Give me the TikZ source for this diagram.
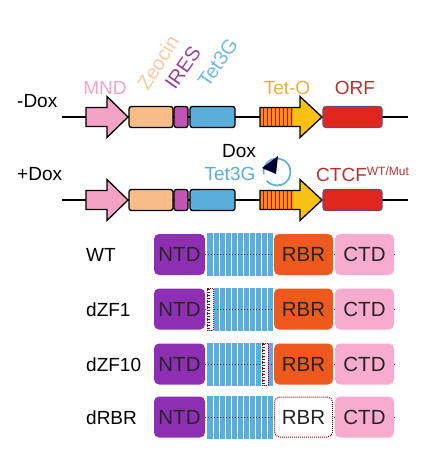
\documentclass[tikz,border=0pt]{standalone}
\usepackage{fontspec}
\setmainfont{Liberation Sans}
\begin{document}
\begin{tikzpicture}[x=1pt,y=-1pt,
  gene/.style={draw=black,line width=1.3pt,rounded corners=2.5pt},
  dom/.style={rounded corners=5pt,minimum height=41pt,inner sep=0pt,font=\fontsize{20.5}{20.5}\selectfont,text=black!85},
  lbl/.style={font=\fontsize{19}{19}\selectfont,inner sep=0pt},
  rlbl/.style={font=\fontsize{20}{20}\selectfont,inner sep=0pt},
  rowlbl/.style={font=\fontsize{19}{19}\selectfont,inner sep=0pt,anchor=west},
  reddot/.style={draw=red!60!black,line width=1pt,densely dotted,fill=white}]
\definecolor{pinkc}{HTML}{F4A3C6}
\definecolor{peach}{HTML}{F8BC88}
\definecolor{iresc}{HTML}{C254B4}
\definecolor{tetb}{HTML}{5AAEDC}
\definecolor{yel}{HTML}{F9C015}
\definecolor{orng}{HTML}{F3901E}
\definecolor{teto}{HTML}{EBB03A}
\definecolor{orfr}{HTML}{E1271D}
\definecolor{orfb}{HTML}{6B4A78}
\definecolor{orft}{HTML}{B3332F}
\definecolor{ntdc}{HTML}{8E2FB3}
\definecolor{zfc}{HTML}{58AEDF}
\definecolor{rbrc}{HTML}{EE5A1D}
\definecolor{ctdc}{HTML}{F7ABCF}
\useasboundingbox (0,0) rectangle (433,454);
% ---- two construct rows
\foreach \yy/\nm in {117/a,200/b}{
  \coordinate (ls\nm) at (62,\yy);
  \coordinate (le\nm) at (408,\yy);
  \draw[line width=1.3pt] (ls\nm) -- (le\nm);
  % MND arrow
  \draw[gene,rounded corners=0pt,fill=pinkc,line join=miter]
    (86,\yy-9.5) -- (107,\yy-9.5) -- (107,\yy-20.5) -- (128,\yy) -- (107,\yy+20.5) -- (107,\yy+9.5) -- (86,\yy+9.5) -- cycle;
  \node[gene,fill=peach,minimum width=44pt,minimum height=21pt,inner sep=0pt] (zeo\nm) at (151,\yy) {};
  \node[gene,fill=iresc,minimum width=14pt,minimum height=21pt,inner sep=0pt] (ires\nm) at (181,\yy) {};
  \node[gene,fill=tetb,minimum width=45pt,minimum height=21pt,inner sep=0pt] (tet\nm) at (212.5,\yy) {};
  % Tet-O arrow
  \fill[orng] (260,\yy-9.5) rectangle (293,\yy+9.5);
  \foreach \s in {0,...,7}{\draw[red!80!black,line width=1pt] (263+\s*4,\yy-9.5) -- (263+\s*4,\yy+9.5);}
  \fill[yel] (293,\yy-9.5) -- (300,\yy-9.5) -- (300,\yy-20.5) -- (322,\yy) -- (300,\yy+20.5) -- (300,\yy+9.5) -- (293,\yy+9.5) -- cycle;
  \draw[line width=1.3pt,line join=miter]
    (260,\yy-9.5) -- (300,\yy-9.5) -- (300,\yy-20.5) -- (322,\yy) -- (300,\yy+20.5) -- (300,\yy+9.5) -- (260,\yy+9.5) -- cycle;
  \node[draw=orfb,line width=1.3pt,rounded corners=3pt,fill=orfr,minimum width=59pt,minimum height=21pt,inner sep=0pt] (orf\nm) at (352.5,\yy) {};
}
% ---- labels
\node[lbl,anchor=west] (mdox) at (17,101) {-Dox};
\node[lbl,anchor=west] (pdox) at (17,174) {+Dox};
\node[lbl,text=pinkc] (mnd) at (105,88) {MND};
\node[lbl,text=teto] (tetol) at (287,88) {Tet-O};
\node[lbl,text=orft] (orfl) at (355,88) {ORF};
\node[rlbl,text=peach!80!white,rotate=58,anchor=base west] (zeol) at (148,92) {Zeocin};
\node[rlbl,text=iresc!80!black,rotate=55,anchor=base west] (iresl) at (175,91) {IRES};
\node[rlbl,text=tetb!85!white,rotate=55,anchor=base west] (tetl) at (208,89) {Tet3G};
\node[lbl] (doxl) at (239,151) {Dox};
\node[lbl,text=tetb] (tet3g) at (230,174) {Tet3G};
\node[lbl,text=orft,anchor=west] (ctcf) at (316,174) {CTCF\textsuperscript{\fontsize{12}{12}\selectfont WT/Mut}};
% Dox bound symbol
\coordinate (dc) at (277,172);
\draw[tetb,line width=1.7pt] (dc) ++(140:13.5) arc[start angle=140,end angle=-190,radius=13.5];
\fill[black!80!blue] (262,168) -- (278,156) -- (276,174) -- cycle;
% ---- CTCF domain rows
\foreach \yy/\nm in {254.5/wt,309/z1,364/z10,417/rb}{
  \fill[zfc] (207,\yy-21.5) rectangle (273,\yy+21.5);
  \foreach \s in {1,...,10}{\draw[white,line width=0.7pt] (207+\s*6,\yy-21.5) -- (207+\s*6,\yy+21.5);}
  \draw[black!80,line width=1pt,dotted] (190,\yy) -- (396,\yy);
}
\foreach \xx/\yy/\nm in {210/309/d1,265/364/d10}{
  \node[reddot,minimum width=6pt,minimum height=42pt,inner sep=0pt] (\nm) at (\xx,\yy) {};
  \foreach \k in {0,...,13}{\draw[red!60!black,line width=0.5pt] (\xx-3,\yy-19.5+\k*3) -- (\xx,\yy-19.5+\k*3);}
}
\foreach \yy/\nm in {254.5/wt,309/z1,364/z10,417/rb}{
  \node[dom,fill=ntdc,minimum width=51pt] (ntd\nm) at (179.5,\yy) {NTD};
  \node[dom,fill=ctdc,minimum width=59pt] (ctd\nm) at (364.5,\yy) {CTD};
}
\foreach \yy/\nm in {254.5/wt,309/z1,364/z10}{
  \node[dom,fill=rbrc,minimum width=59pt] (rbr\nm) at (303.5,\yy) {RBR};
}
\node[dom,reddot,minimum width=58pt,minimum height=40pt,rounded corners=5pt] (rbrrb) at (303.5,417) {RBR};
\node[rowlbl] (wtl) at (86,255) {WT};
\node[rowlbl] (z1l) at (86,310) {dZF1};
\node[rowlbl] (z10l) at (86,365) {dZF10};
\node[rowlbl] (rbl) at (86,418) {dRBR};
\end{tikzpicture}
\end{document}
